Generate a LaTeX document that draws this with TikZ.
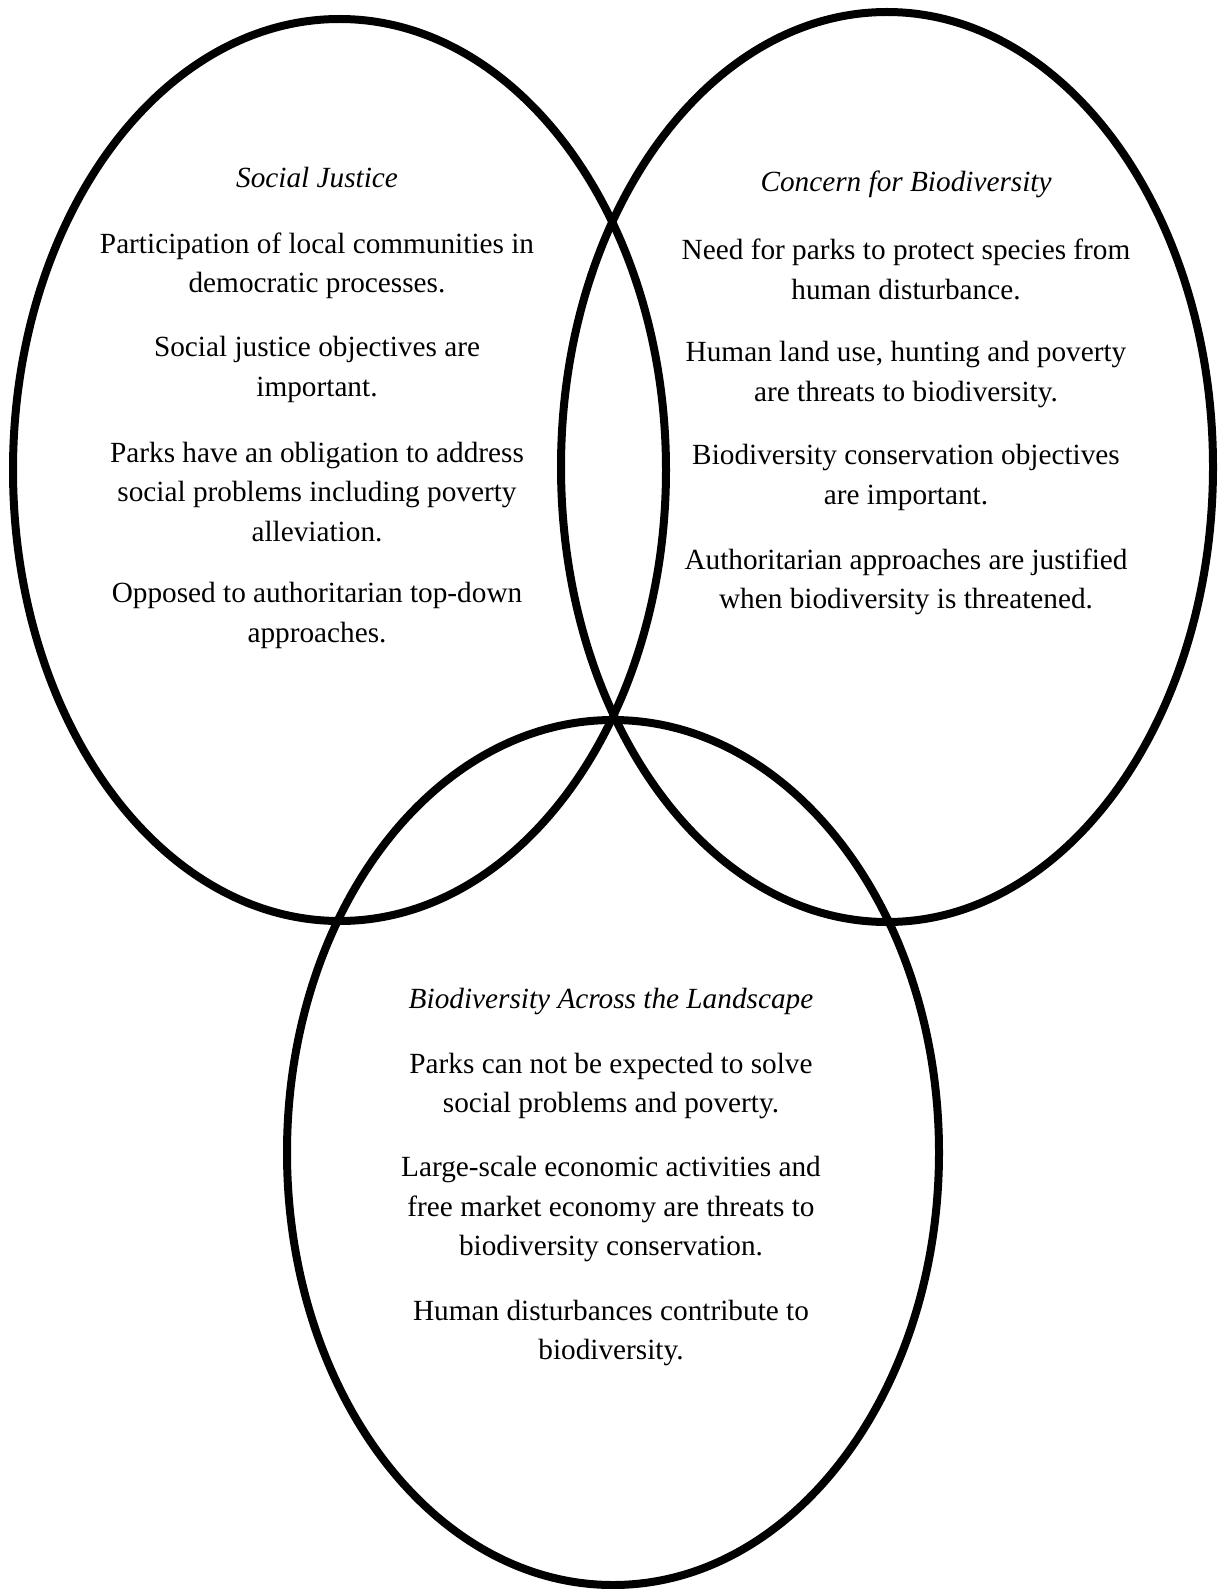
\documentclass[tikz,border=0pt]{standalone}
\usepackage{fontspec}
\setmainfont{Liberation Serif}
\newlength{\du}
\setlength{\du}{0.41pt}
\tikzset{
  venntext/.style={align=center,inner sep=0pt,font=\fontsize{12pt}{16.1pt}\selectfont},
  venntitle/.style={venntext,font=\fontsize{12pt}{16.1pt}\selectfont\itshape}
}

\begin{document}
\begin{tikzpicture}
\pgftransformxscale{1.000000}
\pgftransformyscale{-1.000000}
\useasboundingbox (0\du,0\du) rectangle (1217\du,1589\du);
\definecolor{dialinecolor}{rgb}{0.000000, 0.000000, 0.000000}
\pgfsetstrokecolor{dialinecolor}
\pgfsetlinewidth{8.000000\du}
\pgfsetdash{}{0pt}
\draw (339.500000\du,470.000000\du) ellipse [x radius=326.500000\du, y radius=451.000000\du];
\draw (887.000000\du,467.000000\du) ellipse [x radius=326.000000\du, y radius=455.000000\du];
\draw (613.000000\du,1152.500000\du) ellipse [x radius=326.000000\du, y radius=432.500000\du];
% setfont left to latex
\node[venntitle] (sjTitle) at (317.000000\du,178.000000\du){Social Justice};
\node[venntext] (sjOne) at (317.000000\du,265.500000\du){Participation of local communities in\\democratic processes.};
\node[venntext] (sjTwo) at (317.000000\du,369.500000\du){Social justice objectives are\\important.};
\node[venntext] (sjThree) at (317.000000\du,492.000000\du){Parks have an obligation to address\\social problems including poverty\\alleviation.};
\node[venntext] (sjFour) at (317.000000\du,615.500000\du){Opposed to authoritarian top-down\\approaches.};
% setfont left to latex
\node[venntitle] (cbTitle) at (906.000000\du,184.000000\du){Concern for Biodiversity};
\node[venntext] (cbOne) at (906.000000\du,269.500000\du){Need for parks to protect species from\\human disturbance.};
\node[venntext] (cbTwo) at (906.000000\du,374.500000\du){Human land use, hunting and poverty\\are threats to biodiversity.};
\node[venntext] (cbThree) at (906.000000\du,477.500000\du){Biodiversity conservation objectives\\are important.};
\node[venntext] (cbFour) at (906.000000\du,582.000000\du){Authoritarian approaches are justified\\when biodiversity is threatened.};
% setfont left to latex
\node[venntitle] (blTitle) at (611.000000\du,1001.000000\du){Biodiversity Across the Landscape};
\node[venntext] (blOne) at (611.000000\du,1086.000000\du){Parks can not be expected to solve\\social problems and poverty.};
\node[venntext] (blTwo) at (611.000000\du,1209.000000\du){Large-scale economic activities and\\free market economy are threats to\\biodiversity conservation.};
\node[venntext] (blThree) at (611.000000\du,1333.000000\du){Human disturbances contribute to\\biodiversity.};
\end{tikzpicture}
\end{document}
